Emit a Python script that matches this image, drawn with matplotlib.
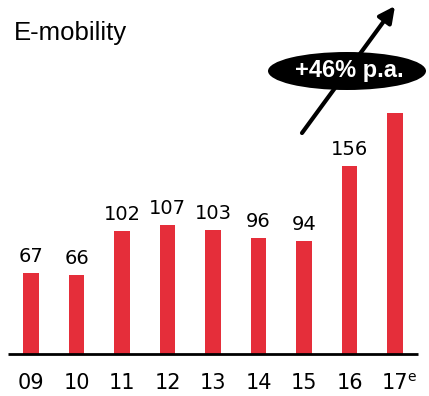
import matplotlib.pyplot as plt
from matplotlib.patches import Ellipse

years = ['09', '10', '11', '12', '13', '14', '15', '16', '17']
values = [67, 66, 102, 107, 103, 96, 94, 156, 200]
labels = ['67', '66', '102', '107', '103', '96', '94', '156', None]

W, H = 429, 396
fig = plt.figure(figsize=(W / 100, H / 100), dpi=100)
ax = fig.add_axes([0, 0, 1, 1])

# pixel layout: first bar centre at x=31, step 45.5px, baseline at y=354, 1.204 px per unit
step, x0 = 45.5, 31
scale, base = 1.204, 354
ax.set_xlim(-x0 / step, (W - x0) / step)
ax.set_ylim(-(H - base) / scale, base / scale)
ax.axis('off')

xs = list(range(len(years)))
ax.bar(xs, values, width=0.35, color='#e52e3a', zorder=2)
ax.hlines(0, -0.505, 8.505, color='black', lw=2, zorder=3)

for x, v, lab in zip(xs, values, labels):
    if lab:
        ax.annotate(lab, (x, v), xytext=(0, 5), textcoords='offset points',
                    ha='center', va='bottom', fontsize=14, family='DejaVu Sans')

for x, y in zip(xs, years):
    ax.text(x, -29 / scale, y, ha='center', va='center', fontsize=15, family='DejaVu Sans')
ax.text(8 + 0.28, -23 / scale, 'e', ha='left', va='center', fontsize=10, family='DejaVu Sans')

fig.text(14 / W, 1 - 33 / H, 'E-mobility', ha='left', va='center',
         fontsize=18.5, family='Liberation Sans')

# growth arrow with ellipse badge
def px(x, y):
    return (x / W, 1 - y / H)

fig.patches.append(Ellipse(px(347, 71), 158 / W, 38 / H, transform=fig.transFigure,
                           facecolor='black', edgecolor='none', zorder=4))
ax.annotate('', xy=px(395, 6), xytext=px(302, 133), xycoords='figure fraction',
            textcoords='figure fraction',
            arrowprops=dict(arrowstyle='-|>', color='black', lw=3,
                            mutation_scale=24, shrinkA=0, shrinkB=0), zorder=5)
fig.text(*px(349, 70), '+46% p.a.', ha='center', va='center', color='white',
         fontsize=17, fontweight='bold', family='Liberation Sans', zorder=6)

fig.savefig('out.png', dpi=100)
